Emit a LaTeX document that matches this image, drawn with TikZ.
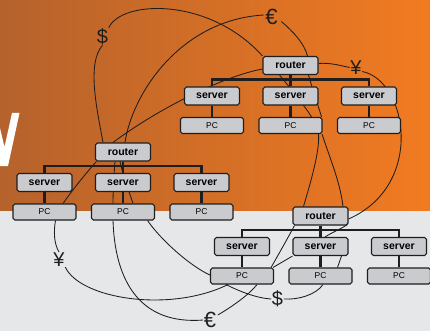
\documentclass[tikz,border=0pt]{standalone}
\usepackage{fontspec}
\setmainfont{Liberation Sans}
\usetikzlibrary{calc}

\definecolor{orangeL}{HTML}{B5622C}
\definecolor{orangeR}{HTML}{F27B21}
\definecolor{floorgrey}{HTML}{E6E7E9}
\definecolor{boxfill}{HTML}{C9CBCF}
\definecolor{ink}{HTML}{1E1E1E}

\pgfdeclarelayer{backdrop}
\pgfdeclarelayer{links}
\pgfdeclarelayer{trunks}
\pgfsetlayers{backdrop,links,trunks,main}

\tikzset{
  devbox/.style={draw=ink, fill=boxfill, line width=1.1pt, rounded corners=1.8pt,
    minimum width=55pt, minimum height=18pt, inner sep=0pt,
    font=\bfseries\fontsize{10.5}{12}\selectfont},
  pcbox/.style={devbox, minimum width=63pt, minimum height=16pt,
    font=\fontsize{8.5}{10}\selectfont},
  trunk/.style={line width=2.6pt, draw=ink},
  link/.style={line width=0.85pt, draw=ink},
  money/.style={inner sep=0.5pt, text=ink, font=\fontsize{20}{20}\selectfont},
}

% one LAN: router, bus, three servers, three PCs
\newcommand\lannet[3]{%
  \node[devbox] (#1r) at (#2,#3) {router};
  \node[devbox] (#1sa) at ([shift={(-78.5,30.5)}]#1r) {server};
  \node[devbox] (#1sb) at ([shift={(0,30.5)}]#1r) {server};
  \node[devbox] (#1sc) at ([shift={(78.5,30.5)}]#1r) {server};
  \node[pcbox] (#1pa) at ([shift={(0,29.5)}]#1sa) {PC};
  \node[pcbox] (#1pb) at ([shift={(0,29.5)}]#1sb) {PC};
  \node[pcbox] (#1pc) at ([shift={(0,29.5)}]#1sc) {PC};
  \begin{pgfonlayer}{trunks}
    \draw[trunk] (#1r.south) -- (#1sb.north);
    \draw[trunk] (#1sa.north) -- ++(0,-7) -| (#1sc.north);
    \draw[trunk] (#1sa) -- (#1pa);
    \draw[trunk] (#1sb) -- (#1pb);
    \draw[trunk] (#1sc) -- (#1pc);
  \end{pgfonlayer}}

\begin{document}
\begin{tikzpicture}[x=1pt, y=-1pt]
  \useasboundingbox (0,0) rectangle (430,331);

  \begin{pgfonlayer}{backdrop}
    \shade[left color=orangeL, right color=orangeR] (0,0) rectangle (430,211);
    \fill[floorgrey] (0,211) rectangle (430,331);
    % fragment of a large white letter at the left edge
    \fill[white] (12,113) -- (19.5,113) -- (8,166) -- (-1,166) -- (-1,124) -- (4.5,147) -- cycle;
  \end{pgfonlayer}

  \lannet{n1}{290.5}{65.5}
  \lannet{n2}{123}{152}
  \lannet{n3}{320.5}{216}

  % currency labels
  \node[money] (usdT) at (102.5,36.5) {\$};
  \node[money, font=\fontsize{22}{22}\selectfont] (eurT) at (271.5,16.5) {€};
  \node[money] (yenT) at (356,67.5) {¥};
  \node[money] (yenB) at (59,259.5) {¥};
  \node[money] (usdB) at (277.5,299) {\$};
  \node[money, font=\fontsize{22}{22}\selectfont] (eurB) at (210,320) {€};

  \begin{pgfonlayer}{links}
    % upper arcs
    \draw[link] ($(n2r.north)+(-20,0)$) .. controls +(-6,-33) and +(-16,18) .. (usdT.south);
    \draw[link] (usdT.north east) .. controls +(13,-28) and +(-53,-59) .. (n1r.north west);
    \draw[link] ($(n2r.north)+(2,0)$) .. controls +(7,-48) and +(-84,5) .. ($(eurT.west)+(-1,-1.5)$);
    \draw[link] ($(eurT.east)+(3,5)$) .. controls +(12,10) and +(-3,-12) .. ($(n1r.north)+(17,0)$);
    \draw[link] ($(n1r.west)+(0,3.5)$) .. controls +(-38,7) and +(47,-35) .. ($(n2r.north)+(-10,0)$);
    \draw[link] ($(n1r.east)+(0,-2)$) .. controls +(12,-1) and +(-10,-2) .. (yenT.west);
    \draw[link] ($(yenT.east)+(0,4)$) .. controls +(45,9) and +(77,-34) .. ($(n3r.east)+(0,3)$);
    % inside the upper LAN
    \draw[link] ($(n1r.south)+(-11,0)$) .. controls +(10,12) and +(-6,-10) .. ($(n1pb.north)+(21,0)$);
    \draw[link] ($(n1r.south)+(18,0)$) .. controls +(4,14) and +(-3,-10) .. ($(n1pb.north east)+(-1,0)$);
    % from the upper LAN down to the lower router
    \draw[link] ($(n3r.north)+(-17,0)$) .. controls +(6.5,-22) and +(1.5,17) .. ($(n1pb.south)+(28,0)$);
    \draw[link] ($(n3r.north)+(22.5,0)$) .. controls +(-3,-25) and +(8,25) .. ($(n1pb.south east)+(-0.5,0)$);
    % left LAN
    \draw[link] ($(n2r.south west)+(1.5,0)$) .. controls +(-10,11) and +(9,-13) .. ($(n2pa.north east)+(-13.5,0)$);
    \draw[link] ($(n2r.south)+(-8,0)$) .. controls +(-1,12) and +(0,-12) .. ($(n2pb.north)+(-10,0)$);
    \draw[link] ($(n2r.south)+(-3,0)$) .. controls +(3,14) and +(-4,-12) .. ($(n2pb.north)+(10,0)$);
    \draw[link] ($(n2pa.south)+(11,0)$) .. controls +(-2,11) and +(-5,-8) .. (yenB.north);
    % lower arcs
    \draw[link] (yenB.south east) .. controls +(15,32) and +(-58,28.5) .. ($(n3pa.south)+(-14,0)$);
    \draw[link] ($(n2pb.south east)+(-7.5,0)$) .. controls +(13,19) and +(-20,-9) .. ($(n3pa.west)+(0,-1)$);
    \draw[link] ($(n2pb.south)+(-10,0)$) .. controls +(2,61) and +(-63,5) .. (eurB.west);
    \draw[link] ($(eurB.east)+(1,-5)$) .. controls +(17,-10) and +(-7,9) .. ($(n3pa.south)+(15,0)$);
    \draw[link] (usdB.west) .. controls +(-16,-1) and +(12,6) .. ($(n3pa.south)+(-16,0)$);
    \draw[link] (usdB.east) .. controls +(15,1) and +(-7,10) .. ($(n3pb.south)+(2.5,0)$);
    % lower LAN
    \draw[link] ($(n3r.south east)+(-1,-1)$) .. controls +(-8,5) and +(8,-5) .. ($(n3sb.north)+(4.5,0)$);
    \draw[link] (n3sb.south west) -- ($(n3pa.north east)+(-1,0)$);
    \draw[link] ($(n3r.south west)+(2,0)$) .. controls +(-8,15) and +(8,-14) .. ($(n3pa.north east)+(-3,0)$);
    \draw[link] ($(n3sb.south)+(21,0)$) -- ($(n3pb.north)+(17,0)$);
  \end{pgfonlayer}
\end{tikzpicture}
\end{document}
